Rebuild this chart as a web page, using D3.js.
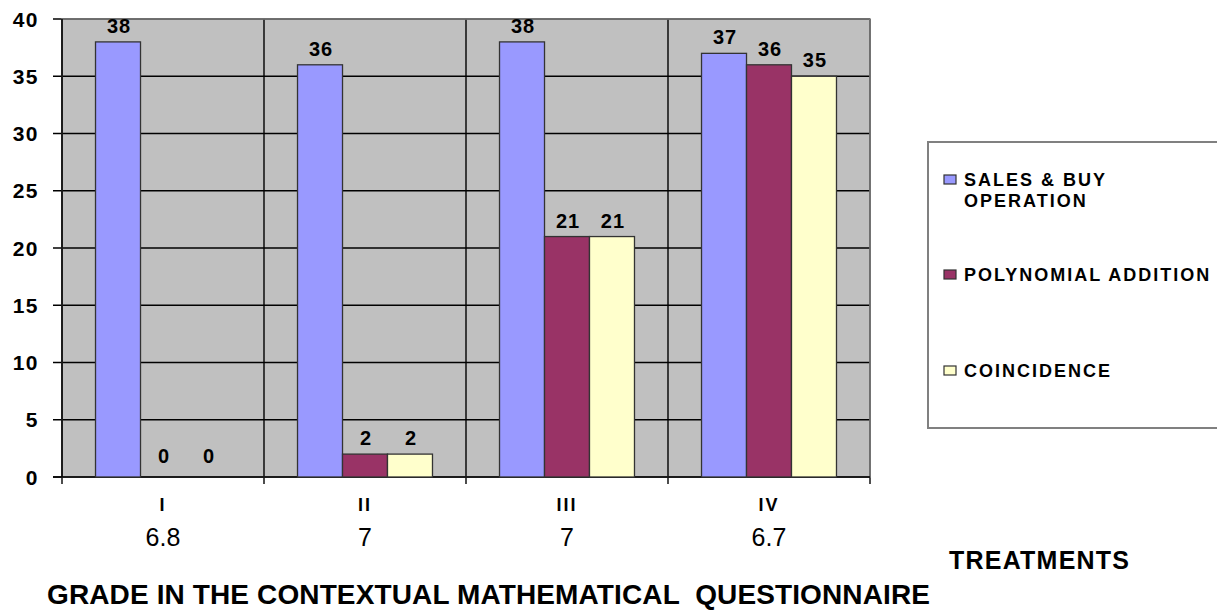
<!DOCTYPE html>
<html><head><meta charset="utf-8">
<script src="https://cdn.jsdelivr.net/npm/d3@7"></script>
<style>body{margin:0;background:#fff}svg{display:block;font-family:"Liberation Sans",Arial,sans-serif}</style>
</head><body>
<svg id="c" width="1217" height="610"></svg>
<script>
const categories = ["I","II","III","IV"];
const grades = ["6.8","7","7","6.7"];
const seriesNames = ["SALES & BUY OPERATION","POLYNOMIAL ADDITION","COINCIDENCE"];
const salesBuy = [38,36,38,37];
const polyAdd = [0,2,21,36];
const coincidence = [0,2,21,35];
const yTicks = [0,5,10,15,20,25,30,35,40];
const colors = ["#9999FF","#993366","#FFFFCC"];
const seriesValues = [salesBuy, polyAdd, coincidence];

const svg = d3.select("#c");
const L = 62, R = 870, T = 19, B = 477;
const x = d3.scaleBand().domain(categories).range([L, R]).paddingInner(0).paddingOuter(0);
const xs = d3.scaleBand().domain(d3.range(3)).range([0, x.bandwidth()]).paddingInner(0).paddingOuter(0.745);
const y = d3.scaleLinear().domain([0, 40]).range([B, T]);

svg.append("rect").attr("x", L).attr("y", T).attr("width", R - L).attr("height", B - T).attr("fill", "#C0C0C0");

// horizontal grid
svg.append("g").selectAll("line").data(yTicks).join("line")
  .attr("x1", L - 9).attr("x2", R).attr("y1", d => y(d)).attr("y2", d => y(d))
  .attr("stroke", "#000").attr("stroke-width", 1.4);
// vertical grid / category separators
const bounds = categories.map(c => x(c)).concat([R]);
svg.append("g").selectAll("line").data(bounds).join("line")
  .attr("x1", d => d).attr("x2", d => d).attr("y1", T).attr("y2", B + 7)
  .attr("stroke", "#000").attr("stroke-width", 1.4);
// frame
svg.append("rect").attr("x", L).attr("y", T).attr("width", R - L).attr("height", B - T)
  .attr("fill", "none").attr("stroke", "#808080").attr("stroke-width", 1.5);
svg.append("line").attr("x1", L).attr("x2", L).attr("y1", T).attr("y2", B).attr("stroke", "#000").attr("stroke-width", 1.5);
svg.append("line").attr("x1", L - 9).attr("x2", R).attr("y1", B).attr("y2", B).attr("stroke", "#000").attr("stroke-width", 1.5);

// y labels
svg.append("g").selectAll("text").data(yTicks).join("text")
  .attr("x", 39).attr("y", d => y(d)).attr("dy", "0.36em").attr("text-anchor", "end")
  .attr("font-size", 21).attr("font-weight", "bold").attr("letter-spacing", 1.5).text(d => d);

// bars
const rows = [];
categories.forEach((c, i) => seriesValues.forEach((vals, s) => rows.push({c, s, v: vals[i]})));
svg.append("g").selectAll("rect").data(rows.filter(d => d.v > 0)).join("rect")
  .attr("x", d => x(d.c) + xs(d.s)).attr("width", xs.bandwidth())
  .attr("y", d => y(d.v)).attr("height", d => B - y(d.v))
  .attr("fill", d => colors[d.s]).attr("stroke", "#333").attr("stroke-width", 1.3);
svg.append("g").selectAll("text").data(rows).join("text")
  .attr("x", d => x(d.c) + xs(d.s) + xs.bandwidth() / 2 + 1).attr("y", d => y(d.v) - (d.v === 0 ? 14 : 9))
  .attr("text-anchor", "middle").attr("font-size", 20).attr("font-weight", "bold").attr("letter-spacing", 1).text(d => d.v);

// x labels
svg.append("g").selectAll("text").data(categories).join("text")
  .attr("x", d => x(d) + x.bandwidth() / 2).attr("y", 511).attr("text-anchor", "middle")
  .attr("font-size", 18).attr("font-weight", "bold").attr("letter-spacing", 2).text(d => d);
svg.append("g").selectAll("text").data(grades).join("text")
  .attr("x", (d, i) => x(categories[i]) + x.bandwidth() / 2).attr("y", 546).attr("text-anchor", "middle")
  .attr("font-size", 25).text(d => d);

svg.append("text").attr("x", 47).attr("y", 604).attr("font-size", 28).attr("font-weight", "bold")
  .attr("xml:space", "preserve").attr("textLength", 883).attr("lengthAdjust", "spacing")
  .text("GRADE IN THE CONTEXTUAL MATHEMATICAL  QUESTIONNAIRE");
svg.append("text").attr("x", 949).attr("y", 569).attr("font-size", 25).attr("font-weight", "bold")
  .attr("textLength", 180).attr("lengthAdjust", "spacing")
  .text("TREATMENTS");

// legend
svg.append("rect").attr("x", 928).attr("y", 142).attr("width", 300).attr("height", 286)
  .attr("fill", "#fff").attr("stroke", "#808080").attr("stroke-width", 2);
const legendLines = [["SALES & BUY", "OPERATION"], ["POLYNOMIAL ADDITION"], ["COINCIDENCE"]];
const legendY = [180, 275, 371];
const lg = svg.append("g").selectAll("g").data(legendLines).join("g");
lg.append("rect").attr("x", 944).attr("y", (d, i) => legendY[i] - 5).attr("width", 12).attr("height", 9)
  .attr("fill", (d, i) => colors[i]).attr("stroke", "#333").attr("stroke-width", 1.2);
lg.each(function(lines, i) {
  const t = d3.select(this).append("text").attr("x", 964).attr("y", legendY[i])
    .attr("font-size", 18).attr("font-weight", "bold").attr("letter-spacing", 2);
  lines.forEach((ln, k) => t.append("tspan").attr("x", 964).attr("dy", k === 0 ? "0.36em" : "1.15em").text(ln));
});
</script>
</body></html>
